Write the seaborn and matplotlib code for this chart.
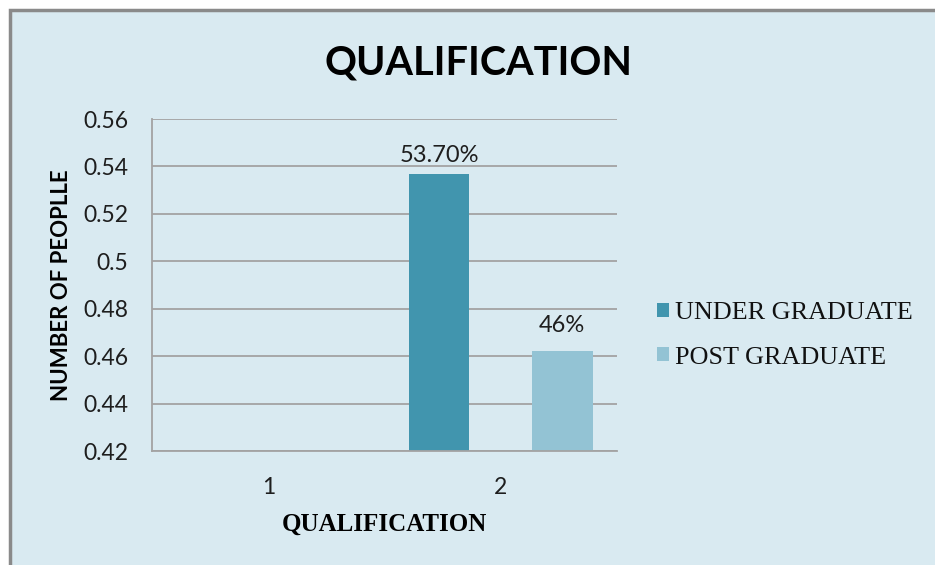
import pandas as pd
import matplotlib
matplotlib.use("Agg")
import matplotlib.pyplot as plt
import seaborn as sns
from matplotlib.patches import Rectangle

# chart data
categories = ["1", "2"]
under_graduate = [0.0, 0.537]
post_graduate = [0.0, 0.462]
series_names = ["UNDER GRADUATE", "POST GRADUATE"]
ug_labels = ["", "53.70%"]
pg_labels = ["", "46%"]
y_ticks = [0.42, 0.44, 0.46, 0.48, 0.50, 0.52, 0.54, 0.56]
y_tick_labels = ["0.42", "0.44", "0.46", "0.48", "0.5", "0.52", "0.54", "0.56"]

bg = "#d9eaf1"
colors = ["#4195ae", "#93c3d4"]
grid_col = "#a3a3a3"

sns.set_style("white")
plt.rcParams["font.family"] = ["Lato", "DejaVu Sans"]

df = pd.DataFrame({
    "cat": categories * 2,
    "value": under_graduate + post_graduate,
    "series": [series_names[0]] * 2 + [series_names[1]] * 2,
})

fig = plt.figure(figsize=(9.35, 5.65), dpi=100, facecolor="white")
# chart area frame (Excel style, cut off at right/bottom)
fig.patches.append(Rectangle((10 / 935, -0.05), 1.1, 1 - 10 / 565 + 0.05,
                             transform=fig.transFigure, facecolor=bg,
                             edgecolor="#8a8a8a", linewidth=2.5, zorder=-10))

ax = fig.add_axes([152 / 935, 1 - 451 / 565, 465 / 935, 332 / 565])
ax.set_facecolor(bg)

sns.barplot(data=df, x="cat", y="value", hue="series", order=categories,
            hue_order=series_names, palette=colors, saturation=1,
            width=1.06, gap=0.51, linewidth=0, ax=ax)

ax.set_ylim(0.42, 0.56)
ax.set_yticks(y_ticks)
ax.set_yticklabels(y_tick_labels)
ax.tick_params(axis="y", length=0, pad=17, labelsize=16.5, labelcolor="#1e1e1e")
ax.tick_params(axis="x", length=0, pad=19, labelsize=16.5, labelcolor="#1e1e1e")
ax.set_axisbelow(True)
ax.yaxis.grid(True, color=grid_col, linewidth=1.3)
for s in ["top", "right"]:
    ax.spines[s].set_visible(False)
for s in ["left", "bottom"]:
    ax.spines[s].set_color(grid_col)
    ax.spines[s].set_linewidth(1.3)
ax.set_xlabel("")
ax.set_ylabel("")

ax.bar_label(ax.containers[0], labels=ug_labels, padding=5.5, fontsize=17,
             color="#1e1e1e")
ax.bar_label(ax.containers[1], labels=pg_labels, padding=11, fontsize=17,
             color="#1e1e1e")

handles, labels = ax.get_legend_handles_labels()
ax.get_legend().remove()
leg = fig.legend(handles, labels, loc="center left",
                 bbox_to_anchor=(657 / 935, 1 - 335.5 / 565), frameon=False,
                 borderpad=0, borderaxespad=0, handlelength=0.45,
                 handleheight=0.45, handletextpad=0.25, labelspacing=0.85,
                 prop={"family": "Liberation Serif", "size": 18.8})
for t in leg.get_texts():
    t.set_color("#111111")

fig.text(478 / 935, 1 - 63 / 565, "QUALIFICATION", ha="center", va="center",
         fontsize=28.5, fontweight="bold", color="black")
fig.text(62 / 935, 1 - 285 / 565, "NUMBER OF PEOPLLE", ha="center",
         va="center", rotation=90, fontsize=16, fontweight="bold",
         color="black")
fig.text(384 / 935, 1 - 524 / 565, "QUALIFICATION", ha="center", va="center",
         fontsize=18, fontweight="bold", family="Liberation Serif",
         color="black")

fig.savefig("out.png", dpi=100, facecolor="white")
